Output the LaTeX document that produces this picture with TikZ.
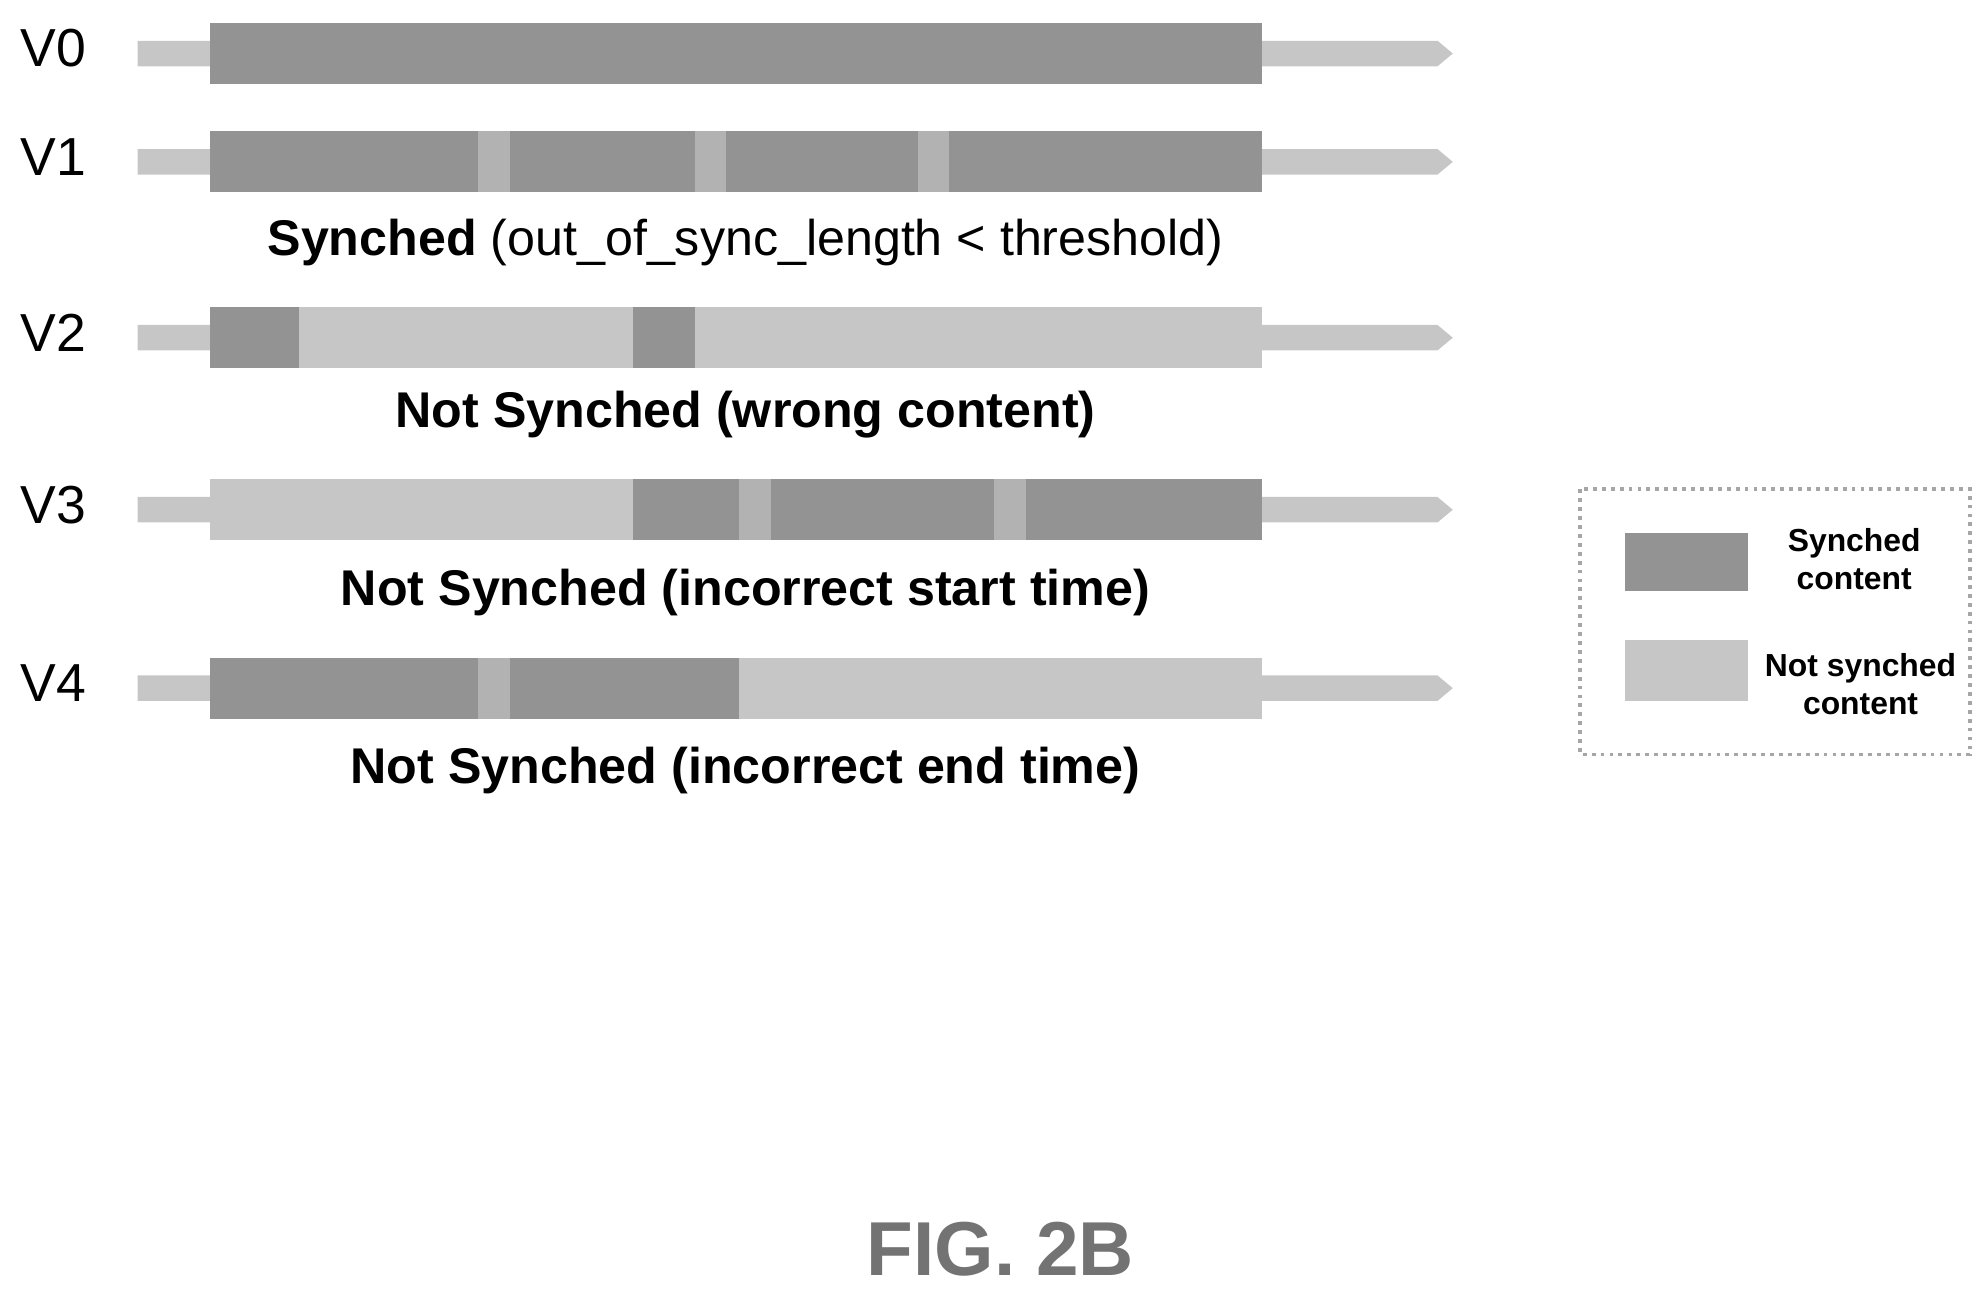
\documentclass[tikz,border=0pt]{standalone}
\usepackage{fontspec}
\setmainfont{Liberation Sans}
\begin{document}
\begin{tikzpicture}[x=0.5pt,y=-0.5pt,
  trk/.style={fill=gray!45,draw=none},
  syn/.style={fill=gray!85,draw=none},
  nsy/.style={fill=gray!45,draw=none},
  vl/.style={font=\fontsize{21}{24}\selectfont},
  captxt/.style={font=\bfseries\fontsize{19.7}{22}\selectfont},
  lg/.style={font=\bfseries\fontsize{12.5}{15}\selectfont,align=center}]
\useasboundingbox (0,0) rectangle (1560,1016);
\newcommand{\track}[2]{%
  \fill[trk] (108,#1-10) -- (1128,#1-10) -- (1140,#1) -- (1128,#1+10) -- (108,#1+10) -- cycle;
  \node[vl] (#2) at (42,#1-4) {#2};}
\newcommand{\seg}[4]{\fill[#4] (#1,#3-24) rectangle (#2,#3+24);}
% V0
\track{42}{V0}
\seg{165}{990}{42}{syn}
% V1
\track{127}{V1}
\seg{165}{990}{127}{syn}
\foreach \a in {375,545,720}{\fill[gray!60] (\a,103) rectangle (\a+25,151);}
\node[font=\fontsize{19.7}{22}\selectfont] (c1) at (585,190) {\textbf{Synched} (out\_of\_sync\_length < threshold)};
% V2
\track{265}{V2}
\seg{165}{990}{265}{nsy}
\seg{165}{235}{265}{syn}
\seg{497}{545}{265}{syn}
\node[captxt] (c2) at (585,325) {Not Synched (wrong content)};
% V3
\track{400}{V3}
\seg{165}{497}{400}{nsy}
\seg{497}{990}{400}{syn}
\foreach \a in {580,780}{\fill[gray!60] (\a,376) rectangle (\a+25,424);}
\node[captxt] (c3) at (585,465) {Not Synched (incorrect start time)};
% V4
\track{540}{V4}
\seg{165}{580}{540}{syn}
\seg{580}{990}{540}{nsy}
\fill[gray!60] (375,516) rectangle (400,564);
\node[captxt] (c4) at (585,605) {Not Synched (incorrect end time)};
% legend
\draw[gray!70,line width=1.5pt,dotted] (1240,384) rectangle (1546,592);
\fill[syn] (1275,418) rectangle (1372,464);
\fill[nsy] (1275,502) rectangle (1372,550);
\node[lg] (l1) at (1455,439) {Synched\\content};
\node[lg] (l2) at (1460,537) {Not synched\\content};
\node[font=\bfseries\fontsize{30}{34}\selectfont,text=gray!90!black] (fig) at (785,980) {FIG. 2B};
\end{tikzpicture}
\end{document}
